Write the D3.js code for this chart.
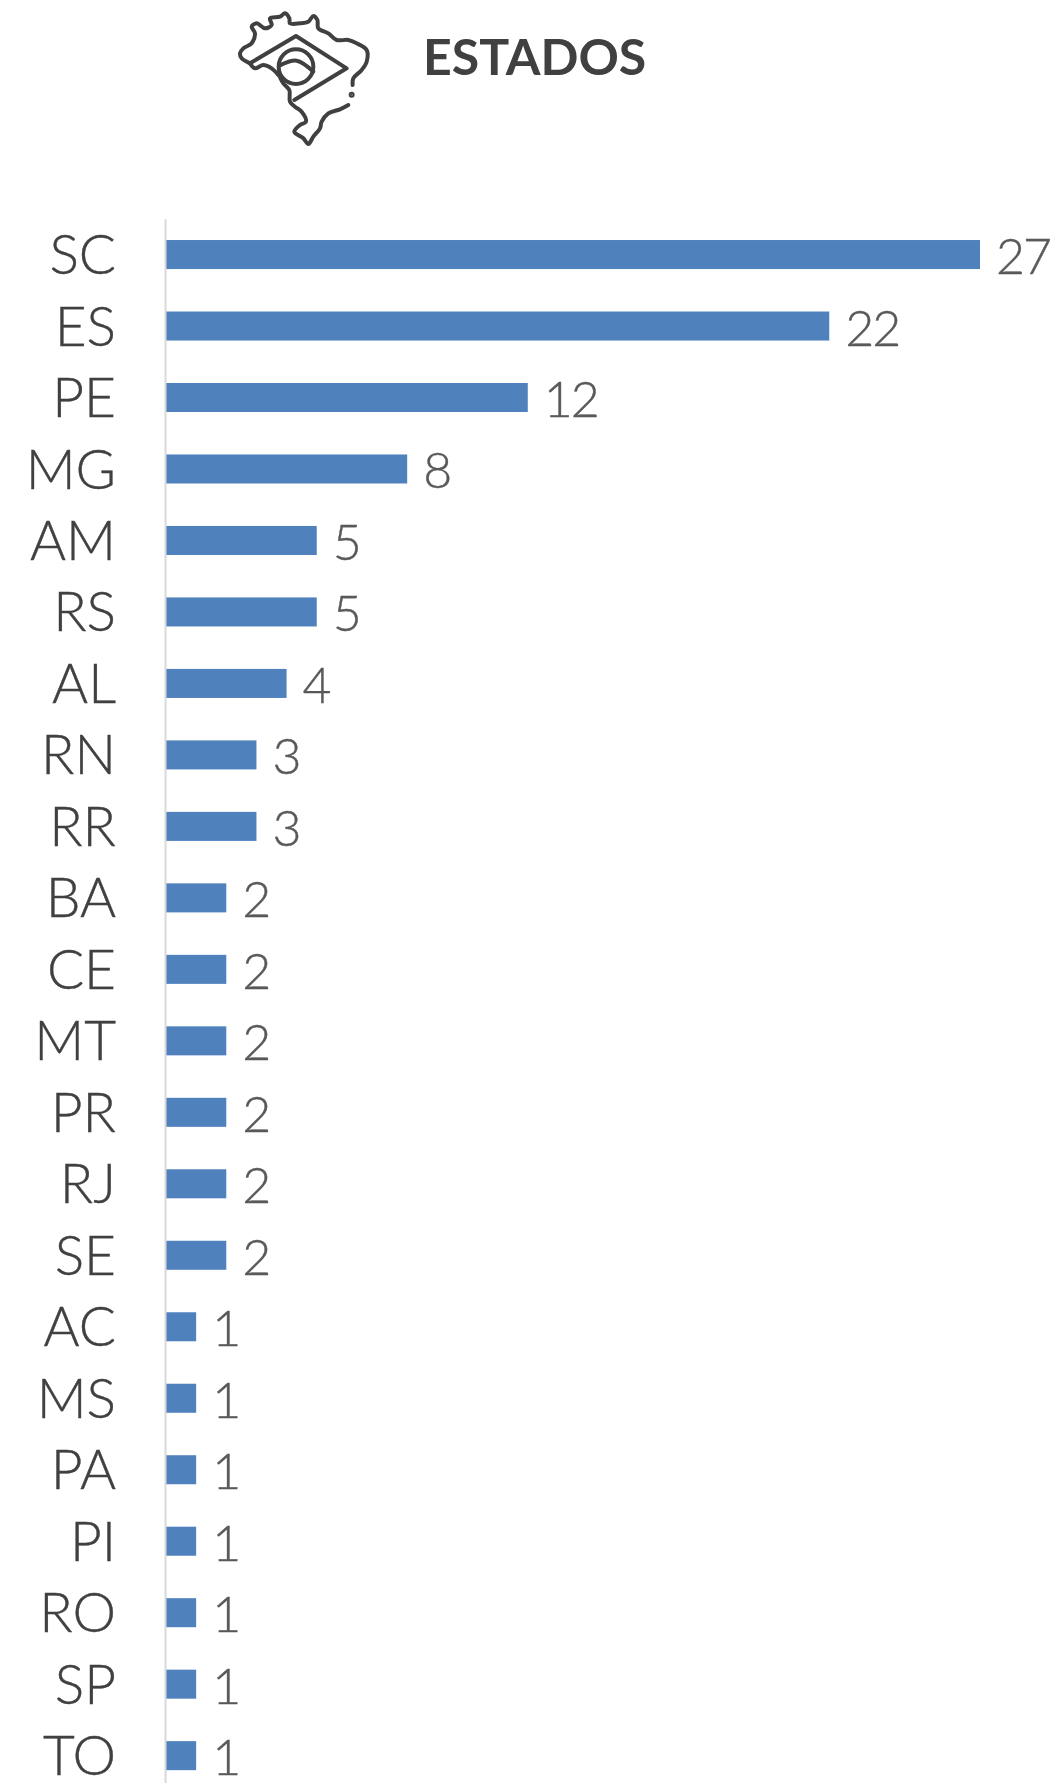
<!DOCTYPE html>
<meta charset="utf-8">
<style>
body { margin: 0; background: #fff; overflow: hidden; }
svg { display: block; }
.cat .domain { stroke: #d9d9d9; stroke-width: 2; }
.cat text { font-family: Lato, sans-serif; font-weight: 300; font-size: 55px; fill: #404040; stroke: #404040; stroke-width: 0.4; }
.val { font-family: Lato, sans-serif; font-weight: 300; font-size: 50px; letter-spacing: -2px; fill: #595959; stroke: #595959; stroke-width: 0.4; }
.title { font-family: Lato, sans-serif; font-weight: 700; font-size: 50px; fill: #404040; }
.bar { fill: #4f81bd; }
.icon { fill: none; stroke: #404040; stroke-linecap: round; stroke-linejoin: round; }
</style>
<body>
<script src="https://cdnjs.cloudflare.com/ajax/libs/d3/7.8.5/d3.min.js"></script>
<script>
var states = ["SC","ES","PE","MG","AM","RS","AL","RN","RR","BA","CE","MT","PR","RJ","SE","AC","MS","PA","PI","RO","SP","TO"];
var counts = [27,22,12,8,5,5,4,3,3,2,2,2,2,2,2,1,1,1,1,1,1,1];
var title = "ESTADOS";

// icon outline
var mapOutline = [[150,190],[125,175],[120,160],[130,145],[155,130],[165,100],[155,80],[170,70],[195,85],[215,75],[210,55],[240,50],[255,40],[268,55],[270,70],[300,70],[325,65],[340,48],[352,60],[355,85],[385,100],[410,120],[445,120],[470,130],[500,150],[500,185],[485,210],[460,235],[458,255]];
var mapOutline2 = [[445,315],[420,328],[385,340],[365,365],[360,385],[340,410],[325,432],[310,415],[283,395],[300,375],[318,365],[305,335],[285,320],[270,305],[268,270],[250,250],[240,232]];
var mapOutline3 = [[150,190],[165,205],[190,195],[215,205],[235,225]];
var flagDiamond = [[150,190],[288,108],[440,205],[283,300]];
var globeArc = [[238,197],[290,182],[340,215]];

var width = 1057, height = 1783;
var svg = d3.select("body").append("svg").attr("width", width).attr("height", height);

var x = d3.scaleLinear().domain([0, 27]).range([166, 980]);
var y = d3.scaleBand().domain(states).range([218.8, 1791.4]).paddingInner(0.594).paddingOuter(0.297);

svg.selectAll(".bar")
  .data(counts)
  .enter().append("rect")
  .attr("class", "bar")
  .attr("x", x(0))
  .attr("y", function(d, i) { return y(states[i]); })
  .attr("width", function(d) { return x(d) - x(0); })
  .attr("height", y.bandwidth());

var catAxis = svg.append("g")
  .attr("class", "cat")
  .attr("transform", "translate(165,0)")
  .call(d3.axisLeft(y).tickSize(0).tickPadding(50));
catAxis.selectAll("text").attr("dx", 1).attr("dy", "0.355em");

svg.selectAll(".val")
  .data(counts)
  .enter().append("text")
  .attr("class", "val")
  .attr("x", function(d) { return x(d) + 16; })
  .attr("y", function(d, i) { return y(states[i]) + y.bandwidth() / 2 + 2; })
  .attr("dy", "0.35em")
  .text(function(d) { return d; });

svg.append("text").attr("class", "title").attr("x", 423).attr("y", 75).text(title);

// icon, coordinates are in 3x zoom space of the reference
var icon = svg.append("g").attr("class", "icon").attr("transform", "translate(200,0) scale(0.3333)").style("stroke-width", 12);
var smooth = d3.line().curve(d3.curveCatmullRom);
[mapOutline, mapOutline2, mapOutline3, globeArc].forEach(function(p) {
  icon.append("path").attr("d", smooth(p));
});
icon.append("path").attr("d", d3.line()(flagDiamond));
icon.append("circle").attr("cx", 288).attr("cy", 200).attr("r", 52);
icon.append("circle").attr("cx", 455).attr("cy", 284).attr("r", 3).style("fill", "#404040");
</script>
</body>
